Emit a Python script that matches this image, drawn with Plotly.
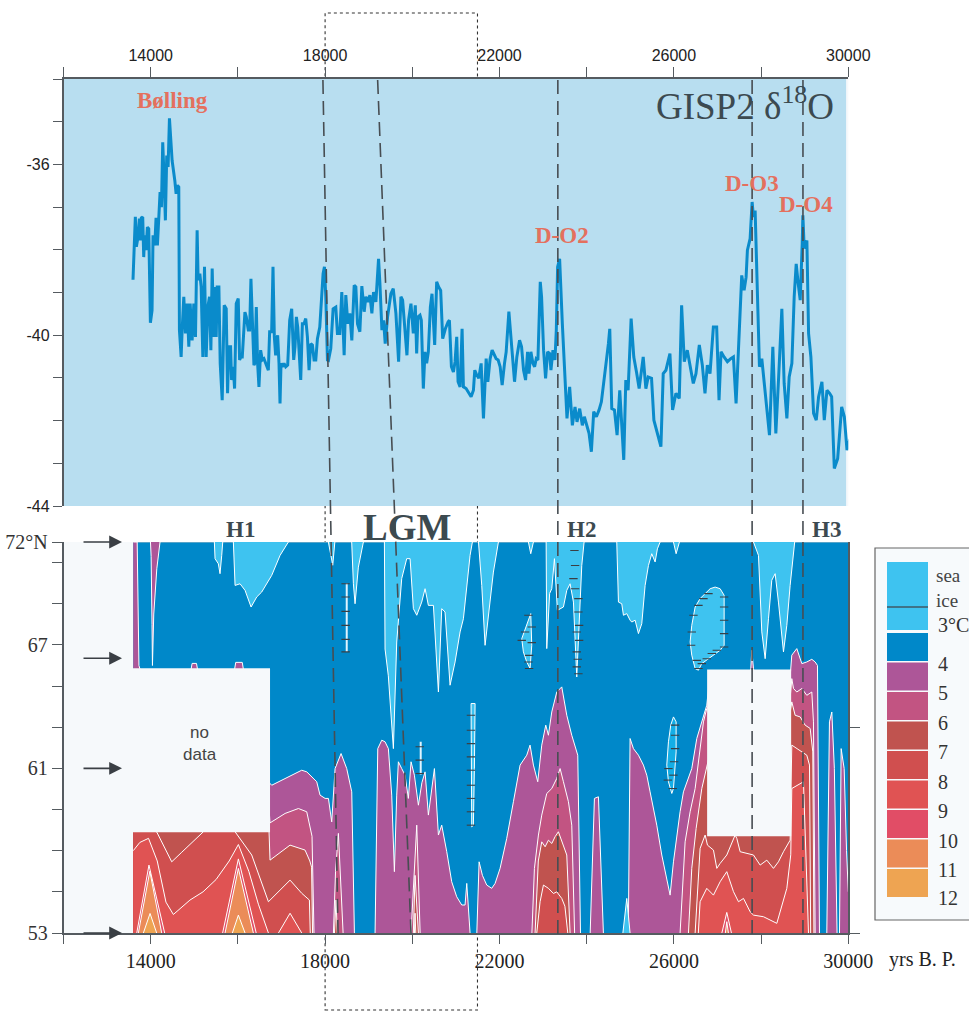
import plotly.graph_objects as go

# ======================= DATA =======================
# GISP2 delta-18O record (year BP, permil)
GISP2 = [
    (13594, -38.70), (13648, -37.23), (13671, -37.93), (13709, -37.70), (13740, -37.27), (13763, -37.78),
    (13786, -37.25), (13817, -37.23), (13840, -38.17), (13863, -37.66), (13893, -38.01), (13924, -37.47),
    (13955, -37.51), (13993, -39.71), (14031, -39.42), (14054, -37.66), (14093, -37.90), (14123, -37.25),
    (14154, -37.90), (14184, -37.31), (14215, -36.65), (14246, -37.00), (14276, -35.48), (14299, -36.10),
    (14337, -37.31), (14368, -35.79), (14399, -36.06), (14430, -34.92), (14460, -35.44), (14491, -35.91),
    (14552, -36.37), (14583, -36.69), (14613, -36.49), (14644, -36.53), (14659, -39.88), (14698, -40.51),
    (14721, -39.88), (14759, -39.10), (14797, -39.96), (14836, -39.26), (14874, -40.27), (14905, -39.26),
    (14950, -40.12), (14989, -39.26), (15027, -40.04), (15065, -37.54), (15088, -38.71), (15127, -38.56),
    (15157, -38.87), (15196, -40.51), (15234, -38.40), (15272, -40.51), (15311, -39.34), (15349, -39.10),
    (15380, -40.35), (15410, -38.44), (15449, -40.04), (15472, -38.87), (15502, -40.04), (15525, -38.87),
    (15564, -38.87), (15594, -40.66), (15640, -41.52), (15686, -39.30), (15732, -39.38), (15763, -41.36),
    (15793, -40.27), (15832, -40.27), (15855, -41.05), (15893, -40.74), (15924, -41.25), (15962, -39.26),
    (16008, -39.14), (16039, -40.58), (16069, -40.51), (16100, -40.51), (16161, -39.46), (16192, -39.57),
    (16238, -39.88), (16269, -39.88), (16299, -38.68), (16330, -39.88), (16368, -40.70), (16391, -40.66),
    (16422, -39.34), (16452, -40.66), (16483, -41.21), (16521, -40.35), (16560, -40.58), (16598, -40.55),
    (16636, -40.66), (16698, -40.82), (16728, -39.92), (16774, -39.92), (16805, -38.40), (16836, -40.04),
    (16866, -40.47), (16912, -40.00), (16943, -40.66), (16966, -41.60), (16989, -40.66), (17019, -40.74),
    (17058, -40.66), (17096, -40.74), (17142, -40.70), (17188, -39.65), (17234, -39.38), (17280, -40.58),
    (17310, -40.27), (17341, -39.57), (17372, -39.81), (17403, -40.27), (17441, -41.05), (17479, -39.73),
    (17517, -39.73), (17556, -39.61), (17594, -40.04), (17632, -40.82), (17671, -40.20), (17709, -40.23),
    (17747, -40.58), (17786, -40.58), (17824, -40.08), (17878, -39.81), (17916, -39.10), (17954, -38.56),
    (17985, -38.40), (18016, -39.10), (18054, -40.58), (18077, -40.59), (18130, -40.31), (18184, -39.38),
    (18245, -39.34), (18283, -39.96), (18337, -39.96), (18383, -38.99), (18437, -40.47), (18475, -39.06),
    (18521, -39.73), (18567, -39.49), (18613, -40.12), (18667, -38.83), (18705, -38.87), (18743, -39.73),
    (18797, -39.92), (18843, -38.85), (18896, -39.45), (18935, -39.10), (18981, -39.22), (19027, -39.06),
    (19073, -39.49), (19111, -38.99), (19165, -39.22), (19226, -38.21), (19257, -38.79), (19303, -39.88),
    (19341, -39.65), (19379, -40.20), (19433, -39.57), (19509, -39.03), (19563, -38.91), (19624, -39.49),
    (19686, -40.62), (19739, -39.10), (19778, -39.18), (19824, -39.81), (19877, -40.47), (19915, -39.65),
    (19969, -39.26), (20023, -39.96), (20069, -39.30), (20100, -40.43), (20130, -39.57), (20176, -39.53),
    (20207, -39.65), (20253, -41.25), (20291, -40.39), (20329, -40.66), (20368, -40.39), (20414, -39.34),
    (20452, -39.03), (20513, -40.23), (20559, -38.75), (20605, -38.87), (20651, -38.95), (20697, -40.08),
    (20758, -39.85), (20820, -39.69), (20851, -39.65), (20897, -40.74), (20943, -40.86), (20981, -40.62),
    (21019, -40.04), (21050, -41.09), (21096, -41.21), (21142, -39.85), (21172, -41.21), (21234, -41.25),
    (21295, -41.36), (21349, -41.44), (21402, -41.29), (21433, -40.82), (21464, -40.90), (21525, -41.01),
    (21579, -40.66), (21632, -41.95), (21694, -40.55), (21732, -41.09), (21785, -40.55), (21831, -40.35),
    (21923, -40.55), (21969, -40.58), (22015, -40.74), (22061, -41.17), (22115, -40.66), (22153, -40.39),
    (22215, -39.45), (22261, -40.12), (22306, -40.66), (22345, -41.09), (22398, -40.51), (22460, -40.12),
    (22506, -40.27), (22552, -40.82), (22598, -41.05), (22644, -40.39), (22674, -40.90), (22720, -40.39),
    (22766, -40.66), (22805, -40.74), (22843, -40.55), (22881, -40.58), (22935, -38.75), (22965, -39.10),
    (23011, -40.35), (23057, -41.01), (23103, -40.39), (23149, -40.43), (23180, -40.82), (23226, -40.35),
    (23272, -40.58), (23303, -39.88), (23333, -38.40), (23379, -38.21), (23441, -39.73), (23502, -41.13),
    (23548, -41.95), (23609, -41.21), (23671, -42.11), (23732, -41.68), (23778, -42.03), (23839, -41.72),
    (23900, -42.11), (23946, -41.91), (23992, -42.07), (24054, -42.30), (24107, -42.73), (24161, -41.79),
    (24222, -41.91), (24284, -41.75), (24337, -41.56), (24391, -41.13), (24452, -40.66), (24498, -40.20),
    (24529, -39.85), (24575, -41.72), (24636, -41.75), (24697, -42.34), (24758, -41.29), (24850, -42.92),
    (24897, -41.05), (24950, -41.29), (25019, -39.61), (25080, -40.51), (25142, -40.86), (25203, -41.25),
    (25296, -40.51), (25357, -41.25), (25411, -40.98), (25487, -41.01), (25541, -41.99), (25617, -42.30),
    (25702, -42.61), (25755, -40.90), (25817, -40.82), (25909, -40.43), (25970, -41.75), (26047, -41.36),
    (26123, -41.48), (26177, -39.30), (26238, -40.62), (26307, -40.35), (26368, -40.66), (26445, -41.13),
    (26506, -40.90), (26583, -40.23), (26652, -40.70), (26713, -41.36), (26767, -40.70), (26828, -40.90),
    (26905, -39.81), (26981, -39.81), (27035, -41.52), (27081, -40.39), (27150, -40.51), (27227, -40.62),
    (27303, -40.55), (27365, -40.51), (27426, -41.60), (27487, -40.12), (27556, -38.60), (27610, -38.95),
    (27656, -38.64), (27686, -38.01), (27748, -37.74), (27794, -36.88), (27824, -37.23), (27863, -37.08),
    (27916, -39.10), (27962, -40.74), (28016, -40.55), (28070, -41.13), (28131, -41.75), (28192, -42.34),
    (28269, -40.27), (28338, -42.30), (28399, -41.05), (28476, -39.38), (28529, -41.13), (28591, -41.95),
    (28644, -40.98), (28706, -40.66), (28759, -39.10), (28805, -38.33), (28851, -38.79), (28897, -39.18),
    (28943, -37.86), (28958, -37.19), (28989, -37.97), (29050, -37.78), (29089, -39.96), (29142, -40.51),
    (29204, -41.83), (29265, -41.99), (29319, -41.44), (29395, -41.09), (29449, -41.99), (29510, -41.29),
    (29572, -41.36), (29618, -41.44), (29679, -43.12), (29756, -42.89), (29848, -41.68), (29909, -41.91),
    (29970, -42.69), (30031, -42.46), (30162, -42.26),
]

# Sea-surface temperature field: latitude (deg N) of each isotherm vs year BP
ISO4 = [
    (13600, 72.0), (13690, 72.0), (13730, 66.0), (13800, 65.5), (14900, 65.5), (14950, 66.1), (15050, 66.1),
    (15100, 65.5), (15900, 65.5), (15950, 66.15), (16100, 66.15), (16150, 65.5), (16600, 62.0), (16720, 60.3),
    (16776, 60.18), (17082, 60.5), (17464, 60.91), (17580, 60.83), (17808, 60.35), (17884, 59.7), (18000, 59.54),
    (18076, 59.54), (18152, 58.4), (18229, 60.99), (18366, 61.72), (18496, 60.99), (18611, 59.86), (18672, 53.0),
    (18690, 52.0), (19130, 52.0), (19146, 53.0), (19208, 61.96), (19300, 62.37), (19375, 62.29), (19451, 61.96),
    (19528, 59.7), (19589, 55.98), (19643, 59.7), (19681, 61.32), (19757, 60.99), (19834, 60.67), (19910, 59.54),
    (19971, 61.32), (20048, 60.67), (20140, 59.21), (20220, 60.3), (20293, 60.83), (20369, 58.73), (20507, 60.99),
    (20599, 57.76), (20675, 58.24), (20790, 56.95), (20904, 55.49), (21019, 54.76), (21134, 54.36), (21210, 54.36),
    (21249, 55.41), (21325, 53.0), (21340, 52.0), (21465, 52.0), (21478, 53.0), (21532, 56.46), (21608, 55.8),
    (21707, 55.33), (21822, 55.17), (21899, 55.41), (22013, 56.14), (22166, 57.6), (22319, 59.38), (22472, 61.16),
    (22625, 61.64), (22701, 62.13), (22778, 61.16), (22877, 60.35), (22969, 62.13), (23061, 63.1), (23122, 62.61),
    (23199, 63.74), (23313, 64.71), (23428, 64.96), (23543, 63.58), (23657, 62.61), (23795, 61.64), (23849, 53.0),
    (23865, 52.0), (24065, 52.0), (24078, 53.0), (24177, 59.54), (24269, 59.62), (24384, 53.0), (24400, 52.0),
    (24950, 52.0), (24975, 57.0), (24995, 62.45), (25072, 61.96), (25187, 61.64), (25301, 61.16), (25378, 60.67),
    (25454, 59.86), (25531, 59.05), (25607, 58.24), (25722, 56.79), (25837, 55.65), (25913, 54.84), (25990, 56.46),
    (26066, 57.76), (26142, 58.89), (26219, 59.86), (26296, 60.35), (26410, 60.99), (26525, 62.45), (26640, 63.26),
    (26754, 64.07), (26800, 65.0), (27700, 65.0), (27764, 65.85), (27787, 66.74), (27825, 65.85), (27900, 65.0),
    (28650, 65.0), (28704, 66.5), (28819, 66.82), (28934, 66.09), (29048, 66.17), (29163, 66.3), (29240, 66.17),
    (29293, 66.0), (29339, 53.0), (29355, 52.0), (29495, 52.0), (29507, 53.0), (29568, 63.26), (29622, 63.74),
    (29680, 61.0), (29737, 53.0), (29750, 52.0), (29785, 52.0), (29798, 53.0), (29836, 61.96), (29905, 60.99),
    (29960, 57.0), (30000, 55.0),
]
ISO5 = [
    (13600, 60.0), (16700, 59.5), (16737, 58.35), (16776, 58.4), (17082, 58.81), (17388, 59.05), (17579, 58.89),
    (17700, 57.7), (17740, 53.0), (17755, 52.0), (18175, 52.0), (18190, 53.0), (18240, 56.0), (18305, 57.84),
    (18420, 53.0), (18435, 52.0), (19955, 52.0), (19971, 53.0), (20102, 58.24), (20178, 53.0), (20195, 52.0),
    (22725, 52.0), (22740, 53.0), (22801, 56.14), (22893, 57.76), (22969, 58.73), (23084, 59.78), (23199, 60.02),
    (23313, 60.51), (23390, 60.99), (23466, 60.35), (23581, 59.38), (23657, 58.24), (23719, 53.0), (23735, 52.0),
    (26125, 52.0), (26142, 53.0), (26257, 57.43), (26372, 58.89), (26487, 60.02), (26601, 61.8), (26678, 63.26),
    (26754, 63.91), (26800, 64.0), (28650, 64.0), (28704, 65.36), (28743, 64.88), (28819, 64.71), (28934, 64.88),
    (29048, 64.55), (29163, 64.71), (29201, 63.26), (29240, 53.0), (29255, 52.0), (30000, 52.0),
]
ISO6 = [
    (13600, 58.8), (16700, 58.8), (16737, 56.54), (17196, 57.27), (17540, 57.03), (17650, 56.5), (17690, 56.2),
    (17705, 53.0), (17720, 52.0), (18205, 52.0), (18215, 53.0), (18250, 54.6), (18290, 53.0), (18300, 52.0),
    (20010, 52.0), (20025, 53.0), (20063, 55.8), (20140, 53.0), (20155, 52.0), (22800, 52.0), (22816, 53.0),
    (22890, 56.5), (22969, 57.43), (23046, 57.19), (23122, 57.51), (23200, 57.35), (23275, 57.68), (23351, 57.92),
    (23428, 57.43), (23543, 56.79), (23619, 53.0), (23635, 52.0), (26320, 52.0), (26334, 53.0), (26410, 56.14),
    (26510, 58.08), (26640, 60.02), (26754, 60.99), (26800, 61.5), (28650, 63.5), (28704, 64.23), (28781, 63.58),
    (28896, 63.5), (29010, 63.1), (29125, 62.94), (29186, 61.8), (29201, 53.0), (29215, 52.0), (30000, 52.0),
]
ISO7 = [
    (13600, 58.5), (13900, 58.3), (14141, 57.9), (14300, 57.2), (14482, 56.46), (14700, 56.9), (14950, 57.4),
    (15208, 57.92), (15500, 58.6), (15800, 58.6), (15935, 57.92), (16317, 56.79), (16700, 54.52), (16776, 54.68),
    (17196, 55.57), (17464, 54.93), (17640, 54.6), (17660, 53.0), (17675, 52.0), (20035, 52.0), (20050, 53.0),
    (20063, 53.96), (20080, 53.0), (20095, 52.0), (22840, 52.0), (22855, 53.0), (22931, 54.52), (23008, 55.33),
    (23122, 55.17), (23237, 54.92), (23313, 55.0), (23428, 54.68), (23500, 54.3), (23566, 53.0), (23580, 52.0),
    (26470, 52.0), (26487, 53.0), (26601, 57.11), (26716, 57.76), (26770, 57.27), (26907, 57.03), (26984, 56.14),
    (27060, 56.38), (27213, 56.79), (27404, 57.76), (27443, 57.6), (27519, 56.95), (27672, 56.87), (27825, 56.79),
    (27978, 56.3), (28131, 56.54), (28284, 56.14), (28398, 56.46), (28513, 56.95), (28666, 57.51), (28704, 62.13),
    (28819, 61.96), (28934, 61.8), (29048, 61.64), (29110, 61.16), (29125, 53.0), (29140, 52.0), (30000, 52.0),
]
ISO8 = [
    (13600, 57.0), (13750, 57.4), (13950, 57.6), (14150, 56.5), (14350, 54.5), (14520, 53.9), (14900, 54.6),
    (15200, 55.0), (15500, 55.6), (15800, 56.5), (16011, 57.3), (16250, 56.0), (16470, 54.4), (16700, 53.0),
    (16715, 52.0), (16915, 52.0), (16930, 53.0), (17196, 53.96), (17464, 53.0), (17480, 52.0), (26545, 52.0),
    (26560, 53.0), (26601, 54.52), (26754, 55.17), (26907, 54.84), (27060, 55.49), (27213, 55.98), (27366, 55.01),
    (27481, 54.52), (27596, 54.68), (27749, 54.03), (27825, 53.87), (28055, 53.79), (28360, 53.47), (28590, 55.17),
    (28680, 56.8), (28704, 60.02), (28972, 60.35), (29087, 53.0), (29100, 52.0), (30000, 52.0),
]
ISO9 = [
    (13665, 52.0), (13680, 53.0), (13960, 56.3), (14320, 53.0), (14335, 52.0), (15635, 52.0), (15650, 53.0),
    (16011, 56.6), (16420, 53.0), (16435, 52.0), (27085, 52.0), (27100, 53.0), (27213, 54.0), (27320, 53.0),
    (27335, 52.0),
]
ISO10 = [
    (13700, 52.0), (13717, 53.0), (13980, 56.0), (14252, 53.0), (14265, 52.0), (15690, 52.0), (15705, 53.0),
    (16011, 56.14), (16355, 53.0), (16370, 52.0), (27165, 52.0), (27180, 53.0), (27213, 53.55), (27250, 53.0),
    (27265, 52.0),
]
ISO11 = [
    (13820, 52.0), (13832, 53.0), (13985, 53.95), (14137, 53.0), (14150, 52.0), (15860, 52.0), (15873, 53.0),
    (16011, 53.87), (16164, 53.0), (16177, 52.0),
]
# lower edge of sea ice hanging from 72N (72.5 = no ice)
ICE_EDGE = [
    (13600, 72.5), (15440, 72.5), (15460, 72.0), (15476, 71.19), (15552, 70.94), (15590, 70.46), (15629, 71.35),
    (15652, 72.0), (15670, 72.5), (15880, 72.5), (15896, 72.0), (15935, 69.89), (16049, 69.97), (16164, 69.65),
    (16302, 68.84), (16432, 69.33), (16546, 69.57), (16776, 70.38), (16967, 71.35), (17158, 72.0), (17180, 72.5),
    (18060, 72.5), (18075, 72.0), (18175, 70.87), (18228, 72.0), (18245, 72.5), (18595, 72.5), (18610, 72.0),
    (18649, 69.97), (18687, 69.0), (18763, 70.78), (18878, 72.0), (18895, 72.5), (19340, 72.5), (19360, 72.0),
    (19375, 66.8), (19450, 65.5), (19566, 61.96), (19643, 67.14), (19757, 70.22), (19872, 71.19), (19949, 71.19),
    (20025, 68.76), (20102, 68.44), (20216, 69.08), (20293, 69.73), (20369, 68.92), (20484, 68.92), (20599, 64.71),
    (20675, 68.76), (20751, 68.6), (20866, 65.04), (20981, 66.17), (21096, 67.63), (21172, 68.27), (21249, 69.73),
    (21325, 71.35), (21378, 72.0), (21395, 72.5), (21500, 72.5), (21516, 72.0), (21593, 69.89), (21669, 66.98),
    (21784, 69.08), (21860, 70.54), (21975, 72.0), (21990, 72.5), (22650, 72.5), (22663, 72.0), (22717, 71.43),
    (22778, 72.0), (22790, 72.5), (23060, 72.5), (23070, 72.0), (23084, 66.82), (23150, 69.5), (23199, 69.73),
    (23260, 71.19), (23328, 68.68), (23466, 68.84), (23543, 69.65), (23619, 69.97), (23696, 69.08), (23772, 65.44),
    (23848, 69.08), (23887, 70.86), (23940, 72.0), (23955, 72.5), (24675, 72.5), (24690, 72.0), (24728, 69.08),
    (24804, 69.0), (24843, 68.44), (24919, 68.52), (24995, 68.2), (25034, 68.11), (25110, 68.2), (25187, 67.55),
    (25263, 68.03), (25340, 69.89), (25416, 70.86), (25492, 71.43), (25569, 71.03), (25622, 71.67), (25684, 72.0),
    (25700, 72.5), (25975, 72.5), (25990, 72.0), (26051, 71.43), (26127, 72.0), (26140, 72.5), (27810, 72.5),
    (27825, 72.0), (27940, 71.35), (28016, 67.63), (28093, 66.33), (28169, 68.27), (28245, 70.14), (28322, 70.46),
    (28398, 69.08), (28513, 66.66), (28590, 67.95), (28666, 69.89), (28781, 72.0), (28795, 72.5), (30000, 72.5),
]
# isolated patches
WARM_SPIKE_H1 = [(13984, 72.5), (13990, 72.0), (14010, 71.3), (14030, 68.0), (14040, 66.0), (14070, 68.5),
                 (14140, 70.7), (14214, 72.0), (14220, 72.5)]
ICE_ISLANDS = [
    [(26372, 67.14), (26410, 67.95), (26487, 68.84), (26601, 69.25), (26716, 69.49), (26831, 69.73), (26946, 69.81),
     (27060, 69.73), (27152, 69.41), (27152, 68.27), (27152, 66.98), (27060, 66.74), (26907, 66.5), (26754, 66.25),
     (26640, 66.09), (26563, 65.77), (26487, 65.85), (26410, 66.5)],
    [(25928, 63.1), (25990, 63.5), (26051, 63.26), (26051, 61.8), (25990, 60.02), (25952, 59.78), (25875, 60.35),
     (25837, 61.16), (25875, 62.29)],
    [(21348, 64.15), (21440, 64.15), (21424, 60.99), (21401, 58.24), (21363, 58.16), (21348, 60.99)],
    [(22510, 67.3), (22625, 67.95), (22717, 68.52), (22740, 66.98), (22701, 65.85), (22625, 66.17), (22548, 66.66)],
    [(24810, 52.5), (24830, 53.0), (24919, 54.68), (25008, 53.0), (25018, 52.5)],
]
ICE_LINES = [[(18496, 70.0), (18496, 66.66)], [(20193, 62.29), (20193, 60.7)]]
HATCH = [
    (18470, 69.97), (18470, 69.33), (18470, 68.63), (18470, 67.95), (18470, 67.27), (18470, 66.66),
    (20170, 62.05), (20170, 61.4), (20170, 60.75),
    (21345, 63.58), (21345, 62.85), (21345, 62.2), (21345, 61.56), (21345, 60.91), (21345, 60.18), (21345, 59.54),
    (21345, 58.89), (21345, 58.24),
    (22663, 68.44), (22740, 67.87), (22740, 67.11), (22679, 66.49), (22663, 66.17), (22679, 65.85), (22510, 67.22),
    (22587, 67.63),
    (23719, 71.59), (23734, 70.86), (23696, 70.22), (23734, 69.73), (23810, 69.25), (23810, 68.6), (23826, 67.95),
    (23772, 67.63), (23826, 67.22), (23772, 66.66), (23795, 66.3), (23772, 65.93), (23810, 65.6),
    (27152, 69.33), (27152, 68.84), (27152, 68.2), (27152, 67.55), (27152, 66.9), (26410, 67.63), (26395, 66.98),
    (26525, 66.25), (26640, 66.09), (26754, 66.33), (26869, 66.58), (26984, 66.74), (26563, 65.85), (26449, 68.44),
    (26563, 68.92), (26678, 69.25), (26793, 69.49),
    (26028, 63.1), (26028, 62.61), (26028, 61.96), (26005, 61.32), (25990, 60.67), (25974, 60.02), (25875, 60.99),
    (25860, 60.43),
]
NO_DATA_BOXES = [(13594, 16737, 57.9, 65.86), (26762, 28689, 57.7, 65.8)]
DATA_START, DATA_END = 13600, 30000

EVENT_TOP_YEARS = [17950, 19205, 23338, 27794, 28960]
EVENT_BOTTOM_YEARS = [18297, 19972, 23338, 27794, 28960]
LGM_BOX_YEARS = [18000, 21495]
ARROW_LATS = [72, 66.35, 61, 53]

PEAK_LABELS = ["Bølling", "D-O2", "D-O3", "D-O4"]
PEAK_X = [14506, 23426, 27794, 29035]
PEAK_Y = [-34.5, -37.66, -36.44, -36.94]
STADIAL_LABELS = ["H1", "LGM", "H2", "H3"]
STADIAL_X = [16049, 19880, 23878, 29491]

LEGEND_TEMPS = ["3°C", "4", "5", "6", "7", "8", "9", "10", "11", "12"]

# ======================= STYLE =======================
W, H = 969, 1012
C_ICE = "#3ec3f0"
C_ISLAND2 = "#14aee6"
C_BLUE = "#0088c9"
BAND_COLORS = ["#ad5698", "#c25482", "#c0534f", "#d04f4f", "#e05353", "#e14d66", "#eb8c58", "#eea452"]
SERIF = "Liberation Serif"
SANS = "Liberation Sans"
AX = "#555b60"


def pxx(px):
    return px / W


def pxy(py):
    return 1 - py / H


fig = go.Figure()

# ---- top panel: GISP2 line ----
gx, gy = zip(*GISP2)
fig.add_trace(go.Scatter(x=gx, y=gy, xaxis="x2", yaxis="y2", mode="lines",
                         line=dict(color="#0a8bcb", width=3), showlegend=False, hoverinfo="skip"))

# ---- bottom panel: temperature bands ----
fig.add_trace(go.Scatter(x=[DATA_START, DATA_END], y=[72, 72], mode="lines", fill="tozeroy",
                         fillcolor=C_BLUE, line=dict(color="#aebfca", width=1.2),
                         showlegend=False, hoverinfo="skip"))
for pts, col in zip([ISO4, ISO5, ISO6, ISO7, ISO8, ISO9, ISO10, ISO11], BAND_COLORS):
    xs, ys = zip(*pts)
    fig.add_trace(go.Scatter(x=xs, y=ys, mode="lines", fill="tozeroy", fillcolor=col,
                             line=dict(color="white", width=1), showlegend=False, hoverinfo="skip"))

xs, ys = zip(*ICE_EDGE)
fig.add_trace(go.Scatter(x=list(xs) + [xs[-1], xs[0]], y=list(ys) + [73, 73], mode="lines", fill="toself",
                         fillcolor=C_ICE, line=dict(color="white", width=1), showlegend=False, hoverinfo="skip"))
xs, ys = zip(*WARM_SPIKE_H1)
fig.add_trace(go.Scatter(x=xs, y=ys, mode="lines", fill="toself", fillcolor=BAND_COLORS[0],
                         line=dict(color="white", width=1), showlegend=False, hoverinfo="skip"))
for i, isl in enumerate(ICE_ISLANDS):
    xs, ys = zip(*isl)
    fig.add_trace(go.Scatter(x=list(xs) + [xs[0]], y=list(ys) + [ys[0]], mode="lines", fill="toself",
                             fillcolor=C_ISLAND2 if i == 1 else C_ICE,
                             line=dict(color="white", width=1), showlegend=False, hoverinfo="skip"))
for ln in ICE_LINES:
    xs, ys = zip(*ln)
    fig.add_trace(go.Scatter(x=xs, y=ys, mode="lines", line=dict(color="#dff4ff", width=2),
                             showlegend=False, hoverinfo="skip"))
hx, hy = zip(*HATCH)
fig.add_trace(go.Scatter(x=hx, y=hy, mode="markers",
                         marker=dict(symbol="line-ew", size=6, line=dict(color="#3a3f44", width=1.1)),
                         showlegend=False, hoverinfo="skip"))
# helper trace for the right-hand axis
fig.add_trace(go.Scatter(x=[DATA_END], y=[53], yaxis="y3", mode="markers", marker=dict(opacity=0),
                         showlegend=False, hoverinfo="skip"))

# ======================= LAYOUT =======================
XDOM = [63.5 / W, 848.3 / W]
xt = list(range(12000, 30001, 2000))
xtt = [str(v) if v in (14000, 18000, 22000, 26000, 30000) else "" for v in xt]

shapes = []
# LGM dotted frame (behind both panels)
shapes.append(dict(type="rect", xref="x", yref="paper", x0=LGM_BOX_YEARS[0], x1=LGM_BOX_YEARS[1],
                   y0=pxy(1010), y1=pxy(13), line=dict(color="#333", width=1.1, dash="3px,3px"),
                   fillcolor="rgba(0,0,0,0)", layer="below"))
# top panel background
shapes.append(dict(type="rect", xref="x2", yref="y2", x0=12000, x1=29950, y0=-44, y1=-34,
                   fillcolor="#b8def0", line=dict(width=0), layer="below"))
# no-data boxes
for x0, x1, y0, y1 in NO_DATA_BOXES:
    shapes.append(dict(type="rect", xref="x", yref="y", x0=x0, x1=x1, y0=y0, y1=y1,
                       fillcolor="#f6f9fb", line=dict(width=0), layer="above"))
# event lines
for xt0, xb0 in zip(EVENT_TOP_YEARS, EVENT_BOTTOM_YEARS):
    shapes.append(dict(type="line", xref="x", yref="paper", x0=xt0, x1=xb0, y0=pxy(80), y1=pxy(935),
                       line=dict(color="#474d52", width=1.6, dash="14px,7px"), layer="above"))
# left-hand arrows
for lat in ARROW_LATS:
    pass

# legend
shapes.append(dict(type="rect", xref="paper", yref="paper", x0=pxx(875), x1=pxx(985), y0=pxy(920), y1=pxy(548),
                   fillcolor="#f7fafc", line=dict(color="#666", width=1.2), layer="above"))
SW0, SW1 = pxx(887), pxx(928)
shapes.append(dict(type="rect", xref="paper", yref="paper", x0=SW0, x1=SW1, y0=pxy(630), y1=pxy(562),
                   fillcolor=C_ICE, line=dict(width=0), layer="above"))
shapes.append(dict(type="line", xref="paper", yref="paper", x0=SW0, x1=SW1, y0=pxy(607), y1=pxy(607),
                   line=dict(color="#3f5866", width=1.4), layer="above"))
band_cols = [C_BLUE] + BAND_COLORS
for i, col in enumerate(band_cols):
    top = 633 + 29.5 * i
    shapes.append(dict(type="rect", xref="paper", yref="paper", x0=SW0, x1=SW1, y0=pxy(top + 28), y1=pxy(top),
                       fillcolor=col, line=dict(width=0), layer="above"))

annotations = []
annotations.append(dict(xref="paper", yref="paper", x=pxx(934), y=pxy(575), text="sea", showarrow=False,
                        xanchor="left", yanchor="middle", font=dict(family=SERIF, size=19, color="#444")))
annotations.append(dict(xref="paper", yref="paper", x=pxx(934), y=pxy(600), text="ice", showarrow=False,
                        xanchor="left", yanchor="middle", font=dict(family=SERIF, size=19, color="#444")))
for k, lab in enumerate(LEGEND_TEMPS):
    if k == 0:
        yy = 625
    elif k == len(LEGEND_TEMPS) - 1:
        yy = 898
    else:
        yy = 633 + 29.5 * k + 1
    annotations.append(dict(xref="paper", yref="paper", x=pxx(936), y=pxy(yy), text=lab, showarrow=False,
                            xanchor="left", yanchor="middle", font=dict(family=SERIF, size=20, color="#333")))

for lab, x, y in zip(PEAK_LABELS, PEAK_X, PEAK_Y):
    annotations.append(dict(xref="x2", yref="y2", x=x, y=y, text="<b>%s</b>" % lab, showarrow=False,
                            xanchor="center", yanchor="middle",
                            font=dict(family=SERIF, size=23, color="#e4705e")))
annotations.append(dict(xref="paper", yref="paper", x=pxx(745), y=pxy(104), text="GISP2 δ<sup>18</sup>O",
                        showarrow=False, xanchor="center", yanchor="middle",
                        font=dict(family=SERIF, size=37, color="#3c4a50")))
for lab, x in zip(STADIAL_LABELS, STADIAL_X):
    big = lab == "LGM"
    annotations.append(dict(xref="x", yref="paper", x=x, y=pxy(527 if big else 529), text="<b>%s</b>" % lab,
                            showarrow=False, xanchor="center", yanchor="middle",
                            font=dict(family=SERIF, size=37 if big else 23, color="#3c4a50")))
annotations.append(dict(xref="paper", yref="paper", x=pxx(200), y=pxy(743), text="no<br>data", showarrow=False,
                        xanchor="center", yanchor="middle", font=dict(family=SANS, size=17, color="#444")))
annotations.append(dict(xref="paper", yref="paper", x=pxx(922), y=pxy(959), text="yrs B. P.", showarrow=False,
                        xanchor="center", yanchor="middle", font=dict(family=SERIF, size=20, color="#222")))
for lat in ARROW_LATS:
    annotations.append(dict(xref="x", yref="y", x=13342, y=lat, text="", showarrow=True, ax=-40, ay=0,
                            arrowhead=2, arrowsize=1.6, arrowwidth=1.6, arrowcolor="#3a3f44"))

fig.update_layout(
    width=W, height=H, autosize=False,
    margin=dict(l=0, r=0, t=0, b=0, pad=0),
    paper_bgcolor="white", plot_bgcolor="#f6f9fb",
    showlegend=False, hovermode=False,
    xaxis=dict(domain=XDOM, range=[12000, 30000], anchor="y", tickmode="array", tickvals=xt, ticktext=xtt,
               ticks="outside", ticklen=9, tickwidth=1.3, tickcolor=AX, showline=True, linecolor=AX,
               linewidth=1.5, showgrid=False, zeroline=False, automargin=False,
               tickfont=dict(family=SERIF, size=20, color="#222")),
    xaxis2=dict(domain=XDOM, range=[12000, 30000], anchor="y2", side="top", tickmode="array", tickvals=xt,
                ticktext=xtt, ticks="outside", ticklen=10, tickwidth=1.3, tickcolor=AX, showline=True,
                linecolor=AX, linewidth=1.5, showgrid=False, zeroline=False, automargin=False,
                tickfont=dict(family=SANS, size=16, color="#222")),
    yaxis=dict(domain=[pxy(933), pxy(542)], range=[53, 72], anchor="x", tickmode="array",
               tickvals=[53, 55, 57, 59, 61, 63, 65, 67, 69, 71, 72],
               ticktext=["53", "", "", "", "61", "", "", "67", "", "", "72°N"],
               ticks="outside", ticklen=10, tickwidth=1.3, tickcolor=AX, showline=True, linecolor=AX,
               linewidth=1.5, showgrid=False, zeroline=False, automargin=False,
               tickfont=dict(family=SERIF, size=20, color="#333")),
    yaxis2=dict(domain=[pxy(506), pxy(79)], range=[-44, -34], anchor="x2", tickmode="array",
                tickvals=list(range(-44, -33)),
                ticktext=["-44", "", "", "", "-40", "", "", "", "-36", "", ""],
                ticks="outside", ticklen=9, tickwidth=1.3, tickcolor=AX, showline=True, linecolor=AX,
                linewidth=1.5, showgrid=False, zeroline=False, automargin=False,
                tickfont=dict(family=SANS, size=16, color="#222")),
    yaxis3=dict(overlaying="y", side="right", anchor="x", range=[53, 72], tickmode="array", tickvals=[53, 63],
                showticklabels=False, ticks="outside", ticklen=10, tickwidth=1.3, tickcolor=AX, showline=True,
                linecolor=AX, linewidth=1.5, showgrid=False, zeroline=False, automargin=False),
    shapes=shapes,
    annotations=annotations,
)

fig.write_html("out.html")
